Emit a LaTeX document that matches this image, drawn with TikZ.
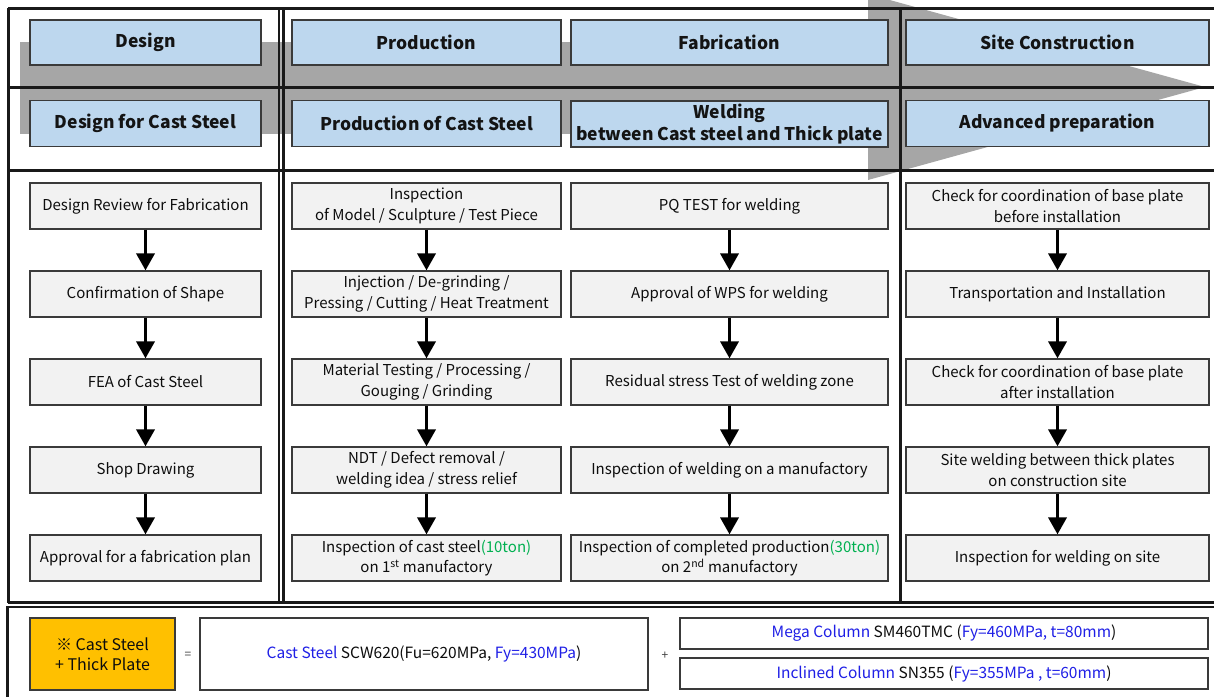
\documentclass[tikz,border=0pt]{standalone}
\usepackage{fontspec}
\setmainfont{Noto Sans CJK KR}
\usetikzlibrary{arrows.meta}
\definecolor{hdrblue}{HTML}{BDD7EE}
\definecolor{stepgray}{HTML}{F2F2F2}
\definecolor{bandgray}{HTML}{A6A6A6}
\definecolor{edge}{HTML}{3A3A3A}
\definecolor{txtblue}{HTML}{1F1FE6}
\definecolor{txtgreen}{HTML}{00B050}
\definecolor{orangebox}{HTML}{FFC000}
\begin{document}
\begin{tikzpicture}[x=1pt,y=-1pt,
  hdr/.style={draw=edge, line width=1.2pt, fill=hdrblue, inner sep=0pt, align=center,
    font=\bfseries\fontsize{17.5}{22}\selectfont, text=black!92},
  stepbox/.style={draw=edge, line width=1.2pt, fill=stepgray, inner sep=0pt, align=center,
    minimum height=46pt, font=\fontsize{15}{20.5}\selectfont, text=black!95},
  c1/.style={minimum width=231pt}, c2/.style={minimum width=269pt},
  c3/.style={minimum width=317pt}, c4/.style={minimum width=303pt},
  frame/.style={line width=3pt, draw=black!90},
  flowarr/.style={line width=3.5pt, draw=black, -{Triangle[width=18pt,length=17pt]}},
  botbox/.style={draw=edge, line width=1.3pt, fill=white, inner sep=0pt, align=center,
    font=\fontsize{15.5}{19}\selectfont, text=black!95},
  sign/.style={inner sep=0pt, font=\fontsize{12}{14}\selectfont, text=black!75}
]
\useasboundingbox (0,0) rectangle (1214,696);
% big gray process arrow
\fill[bandgray] (20,42) rectangle (868,134);
\fill[bandgray] (868,-6) -- (1205,87) -- (868,180) -- cycle;
% frames
\draw[frame, line width=2pt] (279,8) -- (279,602.5);
\draw[frame] (8,8) -- (1240,8);
\draw[frame] (8,8) -- (8,602.5);
\draw[frame] (283,8) -- (283,602.5);
\draw[frame] (900,8) -- (900,602.5);
\draw[frame] (8,87) -- (1240,87);
\draw[frame] (8,170.5) -- (1240,170.5);
\draw[frame, line width=2.5pt] (8,602.5) -- (1240,602.5);
\draw[frame, line width=2.5pt] (1240,607) -- (7.5,607) -- (7.5,720);
% headers
\node[hdr,c1,minimum height=45pt] (h1) at (145.5,42.5) {Design};
\node[hdr,c2,minimum height=45pt] (h2) at (426.5,42.5) {Production};
\node[hdr,c3,minimum height=45pt] (h3) at (729.5,42.5) {Fabrication};
\node[hdr,c4,minimum height=45pt] (h4) at (1057.5,42.5) {Site Construction};
\node[hdr,c1,minimum height=46pt] (s1) at (145.5,123.5) {Design for Cast Steel};
\node[hdr,c2,minimum height=46pt] (s2) at (426.5,123.5) {Production of Cast Steel};
\node[hdr,c3,minimum height=46pt] (s3) at (729.5,124) {Welding\\between Cast steel and Thick plate};
\node[hdr,c4,minimum height=46pt] (s4) at (1057.5,123.5) {Advanced preparation};
% column 1
\node[stepbox,c1] (a1) at (145.5,206) {Design Review for Fabrication};
\node[stepbox,c1] (a2) at (145.5,294) {Confirmation of Shape};
\node[stepbox,c1] (a3) at (145.5,382) {FEA of Cast Steel};
\node[stepbox,c1] (a4) at (145.5,470) {Shop Drawing};
\node[stepbox,c1] (a5) at (145.5,558) {Approval for a fabrication plan};
% column 2
\node[stepbox,c2] (b1) at (426.5,206) {Inspection\\of Model / Sculpture / Test Piece};
\node[stepbox,c2] (b2) at (426.5,294) {Injection / De-grinding /\\Pressing / Cutting / Heat Treatment};
\node[stepbox,c2] (b3) at (426.5,382) {Material Testing / Processing /\\Gouging / Grinding};
\node[stepbox,c2] (b4) at (426.5,470) {NDT / Defect removal /\\welding idea / stress relief};
\node[stepbox,c2] (b5) at (426.5,558) {Inspection of cast steel\textcolor{txtgreen}{(10ton)}\\on 1\textsuperscript{st} manufactory};
% column 3
\node[stepbox,c3] (f1) at (729.5,206) {PQ TEST for welding};
\node[stepbox,c3] (f2) at (729.5,294) {Approval of WPS for welding};
\node[stepbox,c3] (f3) at (729.5,382) {Residual stress Test of welding zone};
\node[stepbox,c3] (f4) at (729.5,470) {Inspection of welding on a manufactory};
\node[stepbox,c3] (f5) at (729.5,558) {Inspection of completed production\textcolor{txtgreen}{(30ton)}\\on 2\textsuperscript{nd} manufactory};
% column 4
\node[stepbox,c4] (g1) at (1057.5,206) {Check for coordination of base plate\\before installation};
\node[stepbox,c4] (g2) at (1057.5,294) {Transportation and Installation};
\node[stepbox,c4] (g3) at (1057.5,382) {Check for coordination of base plate\\after installation};
\node[stepbox,c4] (g4) at (1057.5,470) {Site welding between thick plates\\on construction site};
\node[stepbox,c4] (g5) at (1057.5,558) {Inspection for welding on site};
% arrows
\foreach \p in {a,b,f,g}{
  \draw[flowarr] (\p1) -- (\p2);
  \draw[flowarr] (\p2) -- (\p3);
  \draw[flowarr] (\p3) -- (\p4);
  \draw[flowarr] (\p4) -- (\p5);
}
% bottom legend
\node[botbox, fill=orangebox, minimum width=145pt, minimum height=72pt, font=\fontsize{16}{20}\selectfont] (o) at (102.5,654) {※ Cast Steel\\+ Thick Plate};
\node[sign] (eq) at (188,655) {=};
\node[botbox, minimum width=448pt, minimum height=72pt] (cs) at (424,654)
  {\textcolor{txtblue}{Cast Steel} SCW620(Fu=620MPa, \textcolor{txtblue}{Fy=430MPa})};
\node[sign] (pl) at (665,656) {+};
\node[botbox, minimum width=528pt, minimum height=31pt] (mc) at (944,633.5)
  {\textcolor{txtblue}{Mega Column} SM460TMC (\textcolor{txtblue}{Fy=460MPa, t=80mm})};
\node[botbox, minimum width=528pt, minimum height=31pt] (ic) at (944,673.5)
  {\textcolor{txtblue}{Inclined Column} SN355 (\textcolor{txtblue}{Fy=355MPa , t=60mm})};
\end{tikzpicture}
\end{document}
